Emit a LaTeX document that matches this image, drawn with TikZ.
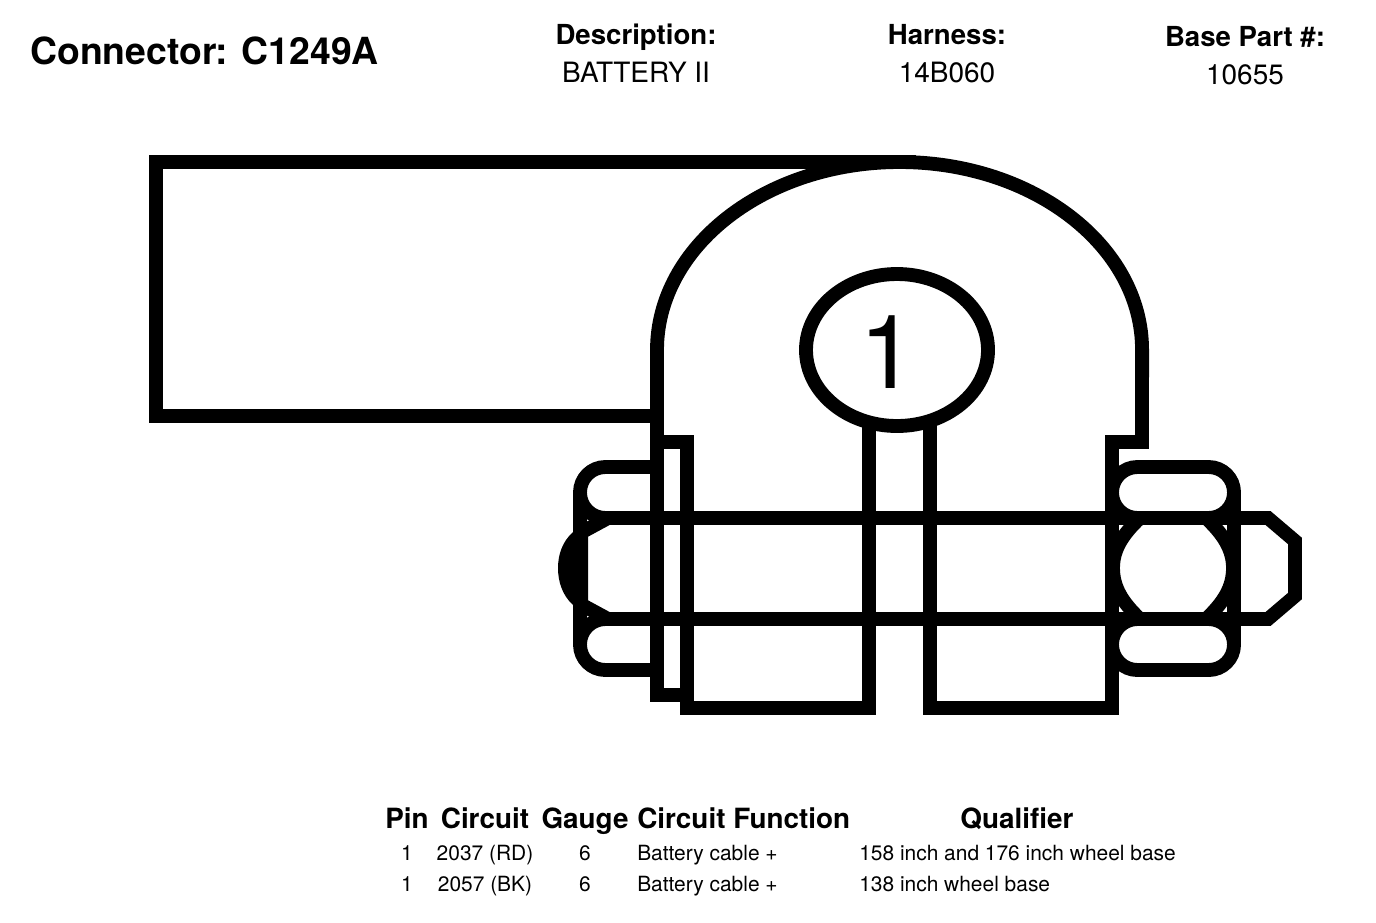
\documentclass[tikz,border=0pt]{standalone}
\usepackage{fontspec}
\setmainfont{TeX Gyre Heros}
\usetikzlibrary{shapes.geometric}
\tikzset{heavy/.style={line width=10.4pt, miter limit=4},
    headbig/.style={font=\fontsize{20.7}{24}\selectfont\bfseries, anchor=base},
    headval/.style={font=\fontsize{21}{24}\selectfont, anchor=base},
    colhead/.style={font=\fontsize{20.9}{24}\selectfont\bfseries, anchor=base},
    colhead left/.style={colhead, anchor=base west, inner sep=0pt},
    cellmid/.style={font=\fontsize{15.7}{18}\selectfont, anchor=base},
    cellleft/.style={cellmid, anchor=base west, inner sep=0pt}}
\newcommand{\nutlobe}[4]{ \draw[heavy, rounded corners=19pt] ( #1 , #2 ) rectangle ( #3 , #4 );}
\newcommand{\headlobe}[2]{ \draw[heavy, rounded corners=19pt] (657, #1 ) -- (580, #1 ) -- (580, #2 ) -- (657, #2 );}
\newcommand{\pinrow}[6]{
    \node[cellmid] (pin#1) at (407, #2 ) {#3};
    \node[cellmid] (circuit#1) at (485, #2 ) {#4};
    \node[cellmid] (gauge#1) at (585, #2 ) {6};
    \node[cellleft] (function#1) at (637, #2 ) {#5};
    \node[cellleft] (qualifier#1) at (859, #2 ) {#6};}
\begin{document}
\begin{tikzpicture}[x=0.75pt,y=-0.75pt]
        \useasboundingbox (0,0) rectangle (1376,922);
        % title
        \node[font=\fontsize{28}{32}\selectfont\bfseries, anchor=base west, inner sep=0pt] (title) at (30,64) {Connector: C1249A};
        \node[headbig] (deschead) at (636,44) {Description:};
        \node[headval] (descval) at (636,82) {BATTERY II};
        \node[headbig] (harnhead) at (947,44) {Harness:};
        \node[headval] (harnval) at (947,82) {14B060};
        \node[headbig] (basehead) at (1245,46) {Base Part \#:};
        \node[headval] (baseval) at (1245,84) {10655};
        % lug tab
        \draw[heavy] (916,162) -- (156,162) -- (156,416) -- (657,416);
        % lug body
        \draw[heavy] (869,420) -- (869,708) -- (687,708) -- (687,442) -- (657,442) -- (657,350)
            arc[start angle=180, end angle=0, x radius=181.9pt, y radius=141pt]
            -- (1142,442) -- (1112,442) -- (1112,708) -- (930,708) -- (930,420);
        % washer
        \draw[heavy] (657,420) -- (657,695) -- (687,695);
        % bolt head
        \headlobe{467}{518}
        \headlobe{670}{619}
        \draw[heavy] (580,490) -- (580,645);
        \fill (588,530) -- (573,532) .. controls (562,542) and (558,555) .. (558,568)
            .. controls (558,581) and (562,595) .. (573,605) -- (588,607) -- cycle;
        \draw[heavy] (584,531) -- (608,518);
        \draw[heavy] (584,606) -- (608,619);
        % nut
        \nutlobe{1112}{467}{1234}{518}
        \nutlobe{1112}{619}{1234}{670}
        \draw[heavy] (1234,490) -- (1234,645);
        \draw[heavy] (1140,518) .. controls (1122,535) and (1113,550) .. (1113,568) .. controls (1113,587) and (1122,602) .. (1140,619);
        \draw[heavy] (1206,518) .. controls (1224,535) and (1233,550) .. (1233,568) .. controls (1233,587) and (1224,602) .. (1206,619);
        % bolt shank
        \draw[heavy] (590,518) -- (1268,518) -- (1295,541) -- (1295,596) -- (1268,619) -- (590,619);
        % pin
        \node[ellipse, draw, fill=white, line width=10.4pt, inner sep=0pt, minimum width=136.5pt, minimum height=114pt] (pinone) at (897,350) {};
        \node[font=\fontsize{77}{80}\selectfont, anchor=base] (pinnum) at (888.5,388) {1};
        % table head
        \node[colhead] (pinhead) at (407,828) {Pin};
        \node[colhead] (circuithead) at (485,828) {Circuit};
        \node[colhead] (gaugehead) at (585,828) {Gauge};
        \node[colhead left] (functionhead) at (637,828) {Circuit Function};
        \node[colhead] (qualifierhead) at (1017,828) {Qualifier};
        % row1
        \pinrow{a}{860}{1}{2037 (RD)}{Battery cable +}{158 inch and 176 inch wheel base}
        % row2
        \pinrow{b}{891}{1}{2057 (BK)}{Battery cable +}{138 inch wheel base}
\end{tikzpicture}
\end{document}
